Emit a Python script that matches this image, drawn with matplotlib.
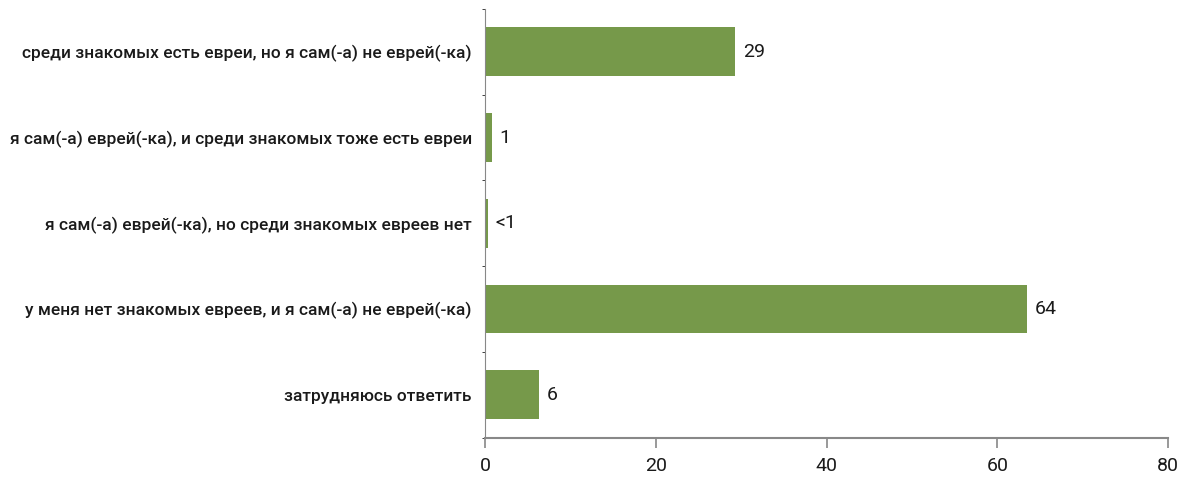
import matplotlib
matplotlib.use("Agg")
import matplotlib.pyplot as plt
from matplotlib.ticker import FixedLocator

plt.rcParams['font.family'] = ['Roboto', 'DejaVu Sans']

categories = [
    "среди знакомых есть евреи, но я сам(-а) не еврей(-ка)",
    "я сам(-а) еврей(-ка), и среди знакомых тоже есть евреи",
    "я сам(-а) еврей(-ка), но среди знакомых евреев нет",
    "у меня нет знакомых евреев, и я сам(-а) не еврей(-ка)",
    "затрудняюсь ответить",
]
values = [29.3, 0.8, 0.3, 63.5, 6.3]
value_labels = ["29", "1", "<1", "64", "6"]
xticks = [0, 20, 40, 60, 80]

fig = plt.figure(figsize=(11.81, 4.79), dpi=100)
ax = fig.add_axes([485 / 1181, 1 - 437.5 / 479, 683 / 1181, 428.5 / 479])

ypos = list(range(len(categories)))
ax.barh(ypos, values, height=0.57, color="#76994a")
for y, v, lab in zip(ypos, values, value_labels):
    ax.text(v + 0.9, y, lab, va="center", ha="left", fontsize=14, color="#1a1a1a")

ax.set_xlim(0, 80)
ax.set_ylim(len(categories) - 0.5, -0.5)
ax.set_xticks(xticks)
ax.set_xticklabels([str(t) for t in xticks], fontsize=14, color="#1a1a1a")
ax.set_yticks(ypos)
ax.set_yticklabels(categories, fontsize=12.5, color="#1a1a1a", fontweight="medium")
ax.tick_params(axis="y", which="major", length=0, pad=9.5)
ax.yaxis.set_minor_locator(FixedLocator([i + 0.5 for i in range(-1, len(categories))]))
ax.tick_params(axis="y", which="minor", length=2, color="#222222")
ax.tick_params(axis="x", length=7, color="#888888", width=1.2, pad=7)

for side in ["top", "right"]:
    ax.spines[side].set_visible(False)
ax.spines["left"].set_color("#888888")
ax.spines["bottom"].set_color("#888888")
ax.spines["bottom"].set_linewidth(1.5)

fig.savefig("out.png", dpi=100)
